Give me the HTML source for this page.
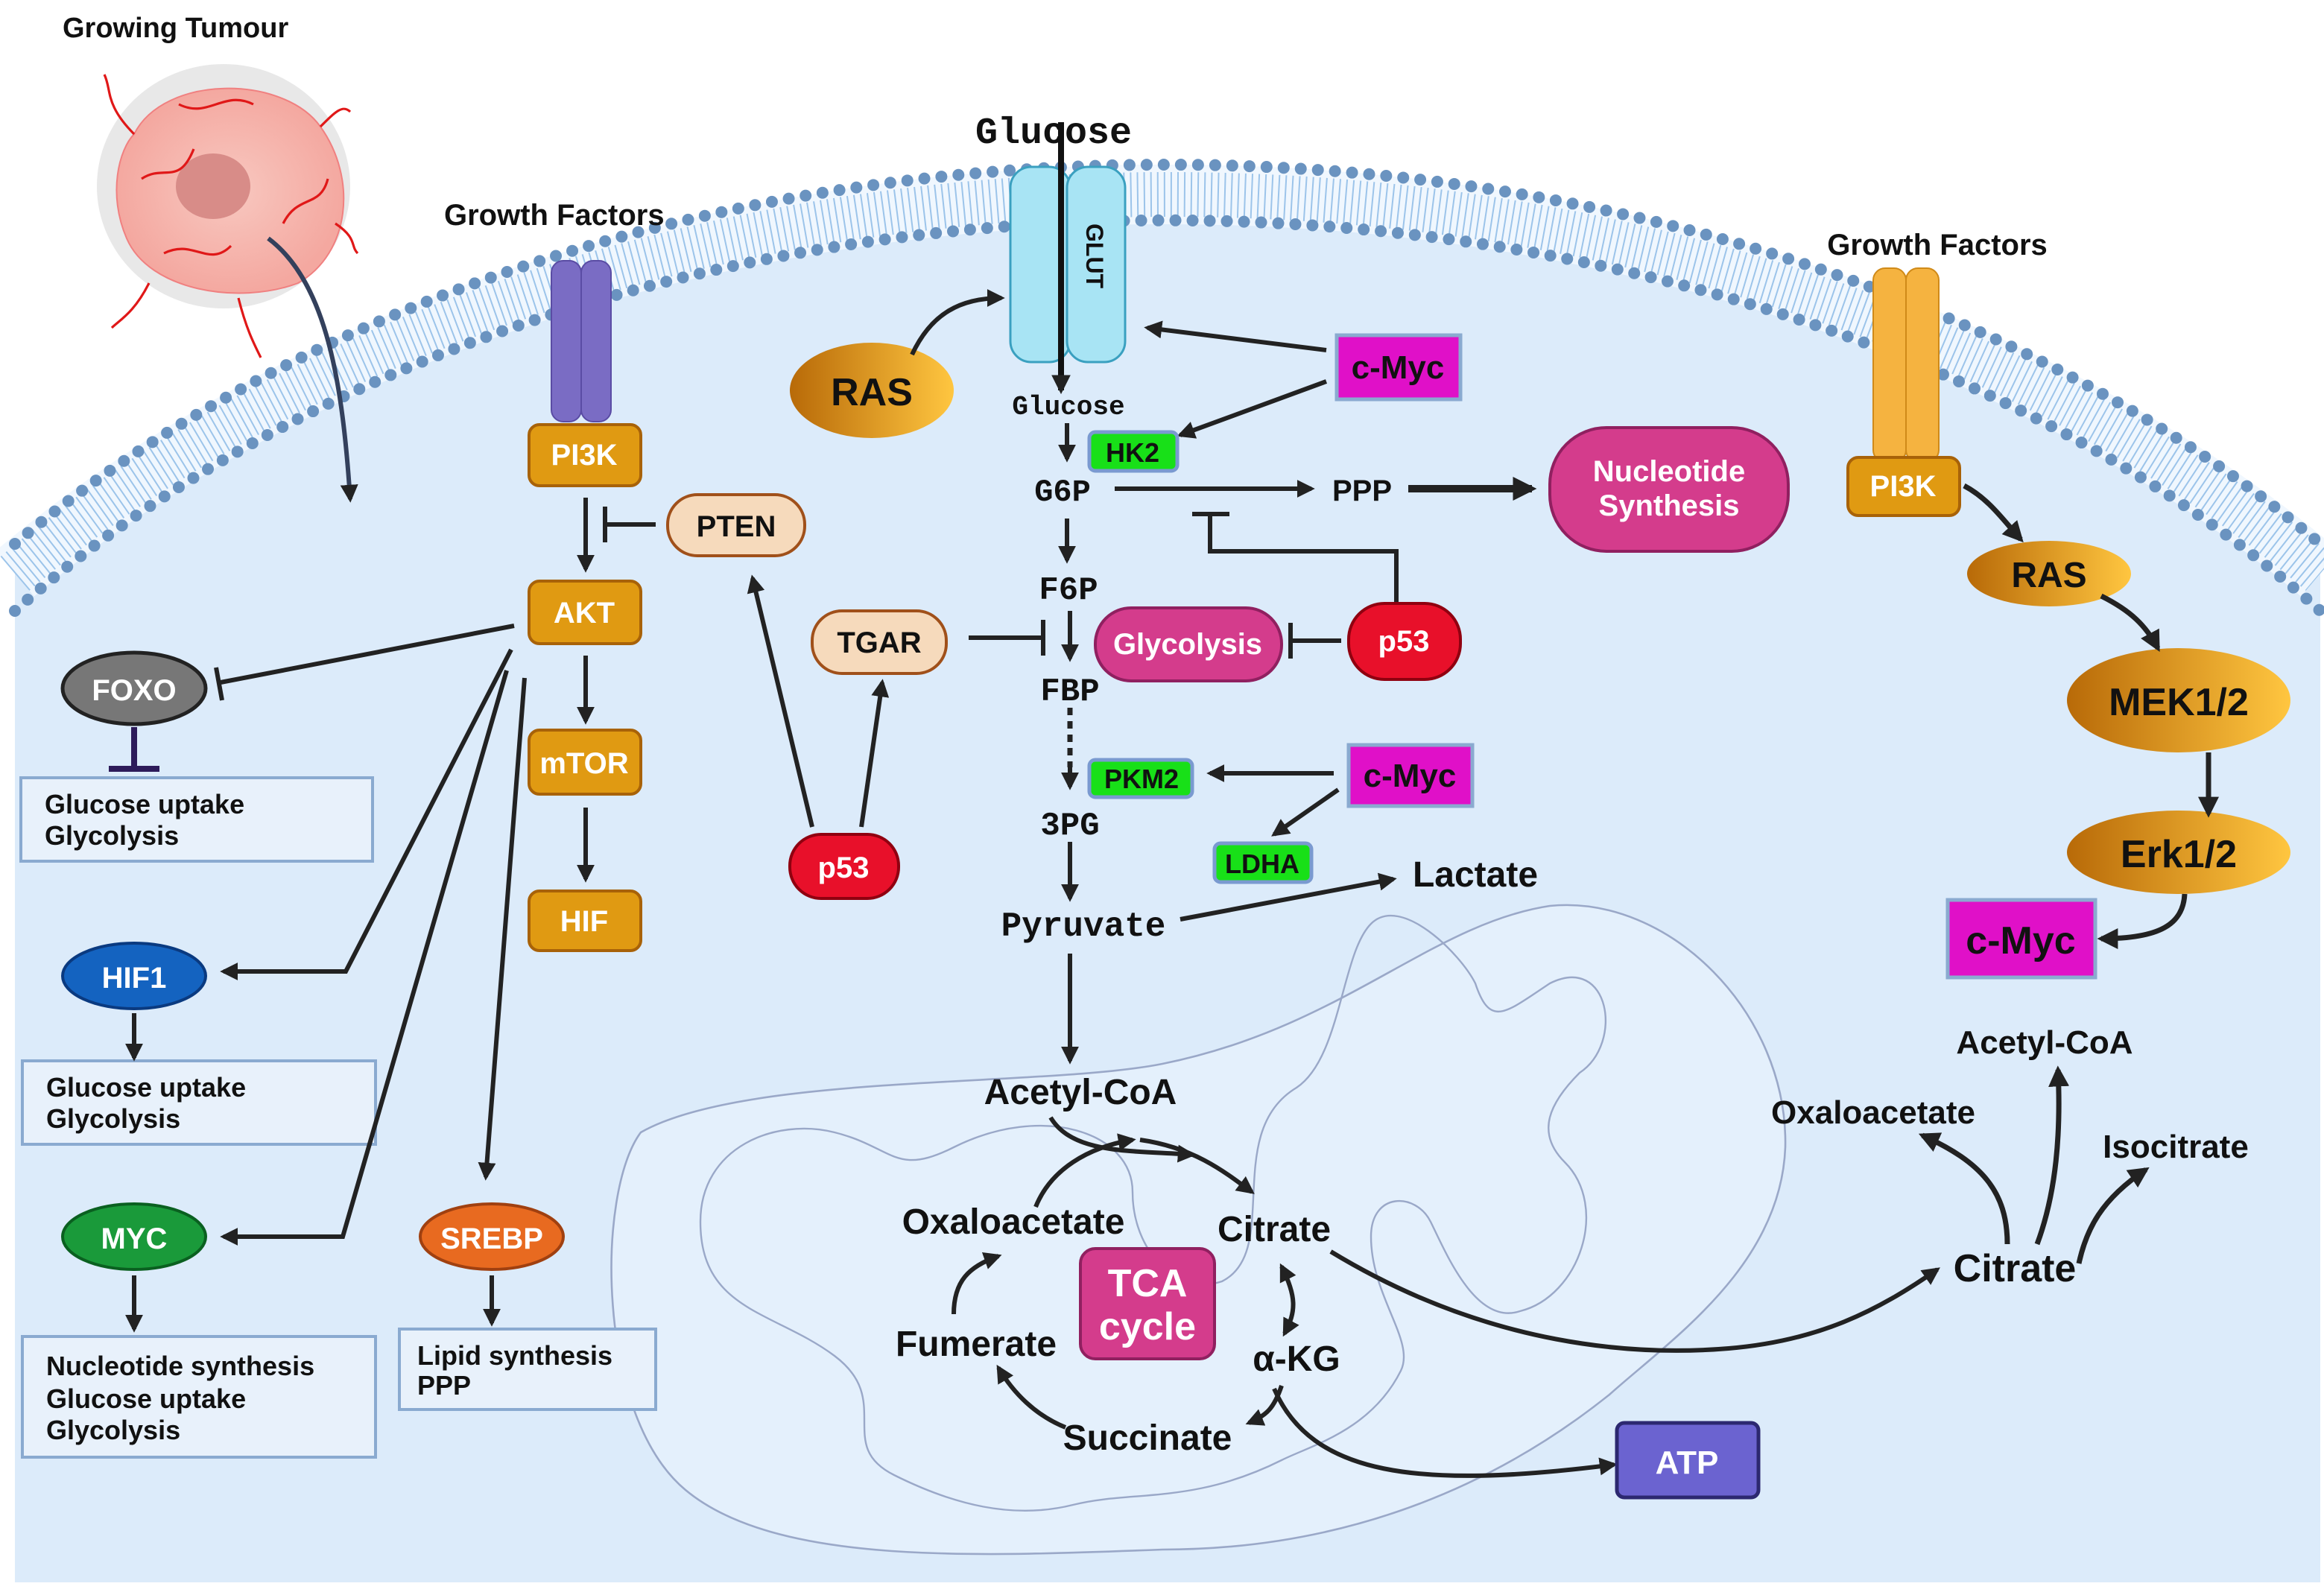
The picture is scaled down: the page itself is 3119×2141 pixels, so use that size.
<!DOCTYPE html>
<html><head><meta charset="utf-8"><style>
html,body{margin:0;padding:0;background:#fff}
svg{display:block}
text{font-family:"Liberation Sans",sans-serif;font-weight:bold;fill:#111}
.m{font-family:"Liberation Mono",monospace}
.w{fill:#fff}
</style></head><body>
<svg width="3119" height="2141" viewBox="0 0 1559.5 1070.5" xmlns="http://www.w3.org/2000/svg">
<defs>
<marker id="a" viewBox="0 0 10 10" refX="8" refY="5" markerWidth="4" markerHeight="4" orient="auto-start-reverse"><path d="M0 0L10 5L0 10z" fill="#222"/></marker>
<marker id="ab" viewBox="0 0 10 10" refX="8" refY="5" markerWidth="3.2" markerHeight="3.2" orient="auto-start-reverse"><path d="M0 0L10 5L0 10z" fill="#222"/></marker>
<linearGradient id="gold" x1="0" x2="1"><stop offset="0" stop-color="#b86a08"/><stop offset="1" stop-color="#ffc640"/></linearGradient>
<radialGradient id="tum"><stop offset="0" stop-color="#f8c8c0"/><stop offset="1" stop-color="#f4a8a0"/></radialGradient>
</defs>
<!-- cell -->
<path d="M10 1062 L10 365 A1000 695 0 0 1 1557 365 L1557 1062 Z" fill="#dcebfa"/>
<path d="M10 365 A1000 695 0 0 1 1557 365" fill="none" stroke="#f0f7fe" stroke-width="40" transform="translate(0,20)"/>
<path d="M10 385 A1000 695 0 0 1 1557 385" fill="none" stroke="#9cc4ea" stroke-width="30" stroke-dasharray="1 3.5"/>
<path d="M10 365 A1000 695 0 0 1 1557 365" fill="none" stroke="#6a93c0" stroke-width="8" stroke-linecap="round" stroke-dasharray="0 11.5"/>
<path d="M10 410 A975 670 0 0 1 1557 410" fill="none" stroke="#6a93c0" stroke-width="8" stroke-linecap="round" stroke-dasharray="0 11.5"/>

<!-- mitochondrion -->
<path d="M430 760 C500 720,700 730,780 714 C900 690,960 620,1040 608 C1120 600,1200 680,1198 770 C1195 850,1120 900,1080 936 C1000 1000,900 1040,780 1040 C650 1045,520 1050,460 1000 C400 950,400 800,430 760Z" fill="#e4f0fc" stroke="#9aa8c8" stroke-width="1.3"/>
<path d="M470 820 C470 770,520 750,560 760 C600 770,600 790,640 770 C700 740,760 760,760 800 C760 840,790 870,820 860 C860 840,820 760,870 730 C900 710,900 640,920 620 C940 600,980 640,990 660 C1000 690,1010 680,1040 660 C1080 640,1090 700,1060 720 C1040 740,1030 760,1050 780 C1080 810,1060 870,1020 880 C990 890,970 840,960 820 C950 800,920 800,920 830 C920 870,950 900,940 920 C920 960,880 970,860 980 C800 1010,760 1000,720 1010 C680 1020,640 1010,600 990 C560 970,600 940,560 910 C520 880,470 880,470 820Z" fill="none" stroke="#9aa8c8" stroke-width="1.2"/>

<!-- tumour -->
<text x="42" y="25" font-size="19">Growing Tumour</text>
<ellipse cx="150" cy="125" rx="85" ry="82" fill="#d8d8d8" opacity=".6"/>
<path d="M90 90 C110 50,190 50,215 85 C240 120,235 170,200 190 C160 205,100 195,85 160 C72 130,80 100,90 90Z" fill="url(#tum)" stroke="#f08080"/>
<ellipse cx="143" cy="125" rx="25" ry="22" fill="#d88c88"/>
<g stroke="#e01818" stroke-width="1.6" fill="none">
<path d="M90 90 C70 70,75 60,70 50 M215 85 C225 75,230 70,235 75 M225 150 C240 160,235 165,240 170 M100 190 C90 210,80 215,75 220 M160 200 C165 220,170 230,175 240 M95 120 C110 110,120 125,130 100 M190 150 C200 130,215 140,220 120 M120 70 C140 80,150 60,170 70 M110 170 C130 160,140 180,155 165"/>
</g>
<path d="M180 160 C220 190,230 260,235 335" fill="none" stroke="#33405c" stroke-width="3" marker-end="url(#a)"/>

<!-- left receptor -->
<text x="298" y="151" font-size="20">Growth Factors</text>
<rect x="370" y="175" width="20" height="108" rx="8" fill="#7a6cc4" stroke="#5a4ca4"/>
<rect x="390" y="175" width="20" height="108" rx="8" fill="#7a6cc4" stroke="#5a4ca4"/>
<g stroke="#a86208" stroke-width="2" fill="#e09a12">
<rect x="355" y="285" width="75" height="41" rx="7"/>
<rect x="355" y="390" width="75" height="42" rx="7"/>
<rect x="355" y="490" width="75" height="43" rx="7"/>
<rect x="355" y="598" width="75" height="40" rx="7"/>
</g>
<text x="392" y="312" font-size="20" class="w" text-anchor="middle">PI3K</text>
<text x="392" y="418" font-size="20" class="w" text-anchor="middle">AKT</text>
<text x="392" y="519" font-size="20" class="w" text-anchor="middle">mTOR</text>
<text x="392" y="625" font-size="20" class="w" text-anchor="middle">HIF</text>
<g stroke="#222" stroke-width="3" fill="none" marker-end="url(#a)">
<path d="M393 334V382"/><path d="M393 440V484"/><path d="M393 542V590"/>
</g>
<rect x="448" y="332" width="92" height="41" rx="20" fill="#f6dabc" stroke="#a0501a" stroke-width="2"/>
<text x="494" y="360" font-size="20" text-anchor="middle">PTEN</text>
<path d="M440 352H406M406 340V364" stroke="#222" stroke-width="3"/>

<ellipse cx="90" cy="462" rx="48" ry="24" fill="#777" stroke="#222" stroke-width="2.5"/>
<text x="90" y="470" font-size="20" class="w" text-anchor="middle">FOXO</text>
<path d="M345 420L148 458M145 448L149 470" stroke="#222" stroke-width="3"/>
<path d="M90 488V515M73 516H107" stroke="#2d1b5a" stroke-width="4"/>
<g fill="#e8f1fb" stroke="#8aaad0" stroke-width="2">
<rect x="14" y="522" width="236" height="56"/>
<rect x="15" y="712" width="237" height="56"/>
<rect x="15" y="897" width="237" height="81"/>
<rect x="268" y="892" width="172" height="54"/>
</g>
<g font-size="18">
<text x="30" y="546">Glucose uptake</text><text x="30" y="567">Glycolysis</text>
<text x="31" y="736">Glucose uptake</text><text x="31" y="757">Glycolysis</text>
<text x="31" y="923">Nucleotide synthesis</text><text x="31" y="945">Glucose uptake</text><text x="31" y="966">Glycolysis</text>
<text x="280" y="916">Lipid synthesis</text><text x="280" y="936">PPP</text>
</g>
<ellipse cx="90" cy="655" rx="48" ry="22" fill="#1463c0" stroke="#0a3a80" stroke-width="2"/>
<text x="90" y="663" font-size="20" class="w" text-anchor="middle">HIF1</text>
<ellipse cx="90" cy="830" rx="48" ry="22" fill="#1a9a3a" stroke="#0a6020" stroke-width="2"/>
<text x="90" y="838" font-size="20" class="w" text-anchor="middle">MYC</text>
<ellipse cx="330" cy="830" rx="48" ry="22" fill="#e86a20" stroke="#a04010" stroke-width="2"/>
<text x="330" y="838" font-size="20" class="w" text-anchor="middle">SREBP</text>
<g stroke="#222" stroke-width="3" fill="none" marker-end="url(#a)">
<path d="M343 436L232 652H150"/>
<path d="M340 450L230 830H150"/>
<path d="M352 455L326 790"/>
<path d="M90 680V710"/><path d="M90 856V892"/><path d="M330 856V888"/>
</g>

<!-- centre -->
<ellipse cx="585" cy="262" rx="55" ry="32" fill="url(#gold)"/>
<text x="585" y="272" font-size="26" text-anchor="middle">RAS</text>
<path d="M612 238C625 210,645 200,672 200" fill="none" stroke="#222" stroke-width="3" marker-end="url(#a)"/>
<rect x="678" y="112" width="40" height="131" rx="14" fill="#a8e4f4" stroke="#3aa0c0" stroke-width="1.5"/>
<rect x="716" y="112" width="39" height="131" rx="14" fill="#a8e4f4" stroke="#3aa0c0" stroke-width="1.5"/>
<text x="0" y="0" font-size="16" transform="translate(729,150) rotate(90)">GLUT</text>
<text x="707" y="96" font-size="25" class="m" text-anchor="middle">Glucose</text>
<path d="M712 82V262" stroke="#111" stroke-width="4" marker-end="url(#ab)"/>
<text x="717" y="278" font-size="18" class="m" text-anchor="middle">Glucose</text>
<rect x="897" y="225" width="83" height="43" fill="#e010c8" stroke="#8aaad0" stroke-width="2.5"/>
<text x="938" y="254" font-size="22" text-anchor="middle">c-Myc</text>
<g stroke="#222" stroke-width="3" fill="none" marker-end="url(#a)">
<path d="M890 235L770 220"/><path d="M890 256L792 292"/>
<path d="M716 284V308"/><path d="M716 348V376"/><path d="M718 410V442"/>
<path d="M748 328H880"/><path d="M718 565V603"/><path d="M718 640V712"/>
<path d="M792 617L935 590"/><path d="M895 519H812"/><path d="M898 530L855 560"/>
<path d="M545 555L505 388"/><path d="M578 555L592 458"/>
</g>
<path d="M718 475V515" stroke="#222" stroke-width="3.5" stroke-dasharray="5 4"/>
<path d="M718 513V528" stroke="#222" stroke-width="3" marker-end="url(#a)"/>
<path d="M945 328H1028" stroke="#222" stroke-width="5" marker-end="url(#ab)"/>
<rect x="731" y="290" width="59" height="26" rx="4" fill="#18e018" stroke="#7a9ad0" stroke-width="2.5"/>
<text x="760" y="310" font-size="18" text-anchor="middle">HK2</text>
<text x="713" y="336" font-size="21" class="m" text-anchor="middle">G6P</text>
<text x="914" y="336" font-size="20" text-anchor="middle">PPP</text>
<rect x="1040" y="287" width="160" height="83" rx="38" fill="#d43c8c" stroke="#902060" stroke-width="2"/>
<text x="1120" y="323" font-size="20" class="w" text-anchor="middle">Nucleotide</text>
<text x="1120" y="346" font-size="20" class="w" text-anchor="middle">Synthesis</text>
<path d="M937 405V370H812V345M800 345H825" stroke="#222" stroke-width="3" fill="none"/>
<text x="717" y="402" font-size="22" class="m" text-anchor="middle">F6P</text>
<rect x="545" y="410" width="90" height="42" rx="20" fill="#f6dabc" stroke="#a0501a" stroke-width="2"/>
<text x="590" y="438" font-size="20" text-anchor="middle">TGAR</text>
<path d="M650 428H700M700 416V440" stroke="#222" stroke-width="3"/>
<text x="718" y="470" font-size="22" class="m" text-anchor="middle">FBP</text>
<rect x="735" y="408" width="125" height="49" rx="24" fill="#d43c8c" stroke="#902060" stroke-width="2"/>
<text x="797" y="439" font-size="20" class="w" text-anchor="middle">Glycolysis</text>
<rect x="905" y="405" width="75" height="51" rx="24" fill="#e8102a" stroke="#900010" stroke-width="2"/>
<text x="942" y="437" font-size="20" class="w" text-anchor="middle">p53</text>
<path d="M900 430H866M866 418V442" stroke="#222" stroke-width="3"/>
<rect x="731" y="510" width="69" height="25" rx="4" fill="#18e018" stroke="#7a9ad0" stroke-width="2.5"/>
<text x="766" y="529" font-size="18" text-anchor="middle">PKM2</text>
<rect x="905" y="500" width="83" height="41" fill="#e010c8" stroke="#8aaad0" stroke-width="2.5"/>
<text x="946" y="528" font-size="22" text-anchor="middle">c-Myc</text>
<rect x="815" y="566" width="65" height="26" rx="4" fill="#18e018" stroke="#7a9ad0" stroke-width="2.5"/>
<text x="847" y="586" font-size="18" text-anchor="middle">LDHA</text>
<text x="718" y="560" font-size="22" class="m" text-anchor="middle">3PG</text>
<text x="727" y="628" font-size="23" class="m" text-anchor="middle">Pyruvate</text>
<text x="990" y="595" font-size="24" text-anchor="middle">Lactate</text>
<rect x="530" y="560" width="73" height="43" rx="21" fill="#e8102a" stroke="#900010" stroke-width="2"/>
<text x="566" y="589" font-size="20" class="w" text-anchor="middle">p53</text>

<!-- TCA -->
<text x="725" y="741" font-size="24" text-anchor="middle">Acetyl-CoA</text>
<text x="855" y="833" font-size="24" text-anchor="middle">Citrate</text>
<text x="680" y="828" font-size="24" text-anchor="middle">Oxaloacetate</text>
<rect x="725" y="838" width="90" height="74" rx="10" fill="#d43c8c" stroke="#902060" stroke-width="2"/>
<text x="770" y="870" font-size="26" class="w" text-anchor="middle">TCA</text>
<text x="770" y="899" font-size="26" class="w" text-anchor="middle">cycle</text>
<text x="655" y="910" font-size="24" text-anchor="middle">Fumerate</text>
<text x="870" y="920" font-size="24" text-anchor="middle">α-KG</text>
<text x="770" y="973" font-size="24" text-anchor="middle">Succinate</text>
<text x="1085" y="0" font-size="1"> </text>
<g stroke="#222" stroke-width="3" fill="none" marker-end="url(#a)">
<path d="M705 750C720 775,760 772,800 775"/>
<path d="M765 765C800 770,820 785,840 800"/>
<path d="M695 810C705 785,730 770,760 765"/>
<path d="M860 850C870 870,870 880,862 895" marker-start="url(#a)"/>
<path d="M860 930C855 945,850 950,838 955"/>
<path d="M715 958C695 950,680 935,670 918"/>
<path d="M893 840C1000 905,1100 910,1160 905C1220 900,1260 880,1300 852"/>
<path d="M855 932C880 990,950 1000,1083 983"/>
</g>
<path d="M640 882C640 860,650 850,670 843" stroke="#222" stroke-width="3" fill="none" marker-end="url(#a)"/>
<rect x="1085" y="955" width="95" height="50" rx="5" fill="#6b63d0" stroke="#2c2870" stroke-width="2.5"/>
<text x="1132" y="989" font-size="22" class="w" text-anchor="middle">ATP</text>

<!-- right -->
<text x="1300" y="171" font-size="20" text-anchor="middle">Growth Factors</text>
<rect x="1257" y="180" width="22" height="130" rx="8" fill="#f5b340" stroke="#d08a18"/>
<rect x="1279" y="180" width="22" height="130" rx="8" fill="#f5b340" stroke="#d08a18"/>
<rect x="1240" y="307" width="75" height="39" rx="7" fill="#e09a12" stroke="#a86208" stroke-width="2"/>
<text x="1277" y="333" font-size="20" class="w" text-anchor="middle">PI3K</text>
<ellipse cx="1375" cy="385" rx="55" ry="22" fill="url(#gold)"/>
<text x="1375" y="394" font-size="24" text-anchor="middle">RAS</text>
<ellipse cx="1462" cy="470" rx="75" ry="35" fill="url(#gold)"/>
<text x="1462" y="480" font-size="26" text-anchor="middle">MEK1/2</text>
<ellipse cx="1462" cy="572" rx="75" ry="28" fill="url(#gold)"/>
<text x="1462" y="582" font-size="26" text-anchor="middle">Erk1/2</text>
<rect x="1307" y="604" width="99" height="52" fill="#e010c8" stroke="#8aaad0" stroke-width="2.5"/>
<text x="1356" y="640" font-size="26" text-anchor="middle">c-Myc</text>
<g stroke="#222" stroke-width="3.5" fill="none" marker-end="url(#a)">
<path d="M1318 326C1335 335,1345 350,1356 362"/>
<path d="M1410 400C1430 410,1440 420,1448 435"/>
<path d="M1482 505V546"/>
<path d="M1466 600C1465 620,1450 630,1410 630"/>
<path d="M1347 835C1347 800,1330 780,1290 762"/>
<path d="M1367 835C1380 800,1383 760,1381 718"/>
<path d="M1395 848C1400 825,1410 805,1440 785"/>
</g>
<text x="1372" y="707" font-size="22" text-anchor="middle">Acetyl-CoA</text>
<text x="1257" y="754" font-size="22" text-anchor="middle">Oxaloacetate</text>
<text x="1460" y="777" font-size="22" text-anchor="middle">Isocitrate</text>
<text x="1352" y="860" font-size="26" text-anchor="middle">Citrate</text>
</svg>
</body></html>
